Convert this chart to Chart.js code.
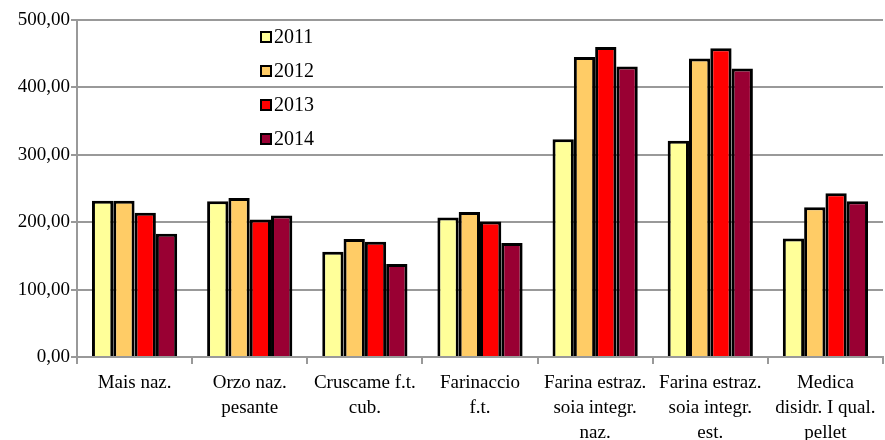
<!DOCTYPE html>
<html lang="it">
<head>
<meta charset="UTF-8">
<title>Prezzi</title>
<script src="https://cdn.jsdelivr.net/npm/chart.js"></script>
<style>
  html, body { margin: 0; padding: 0; background: #fff; }
  #wrap { width: 885px; height: 440px; position: relative; }
</style>
</head>
<body>
<div id="wrap"><canvas id="grafico"></canvas></div>
<script>
// dati
const categorie = [
  ["Mais naz."],
  ["Orzo naz.", "pesante"],
  ["Cruscame f.t.", "cub."],
  ["Farinaccio", "f.t."],
  ["Farina estraz.", "soia integr.", "naz."],
  ["Farina estraz.", "soia integr.", "est."],
  ["Medica", "disidr. I qual.", "pellet"]
];
const anni = ["2011", "2012", "2013", "2014"];
const valori2011 = [232, 231, 156, 207, 323, 321, 176];
const valori2012 = [232, 236, 175, 215, 445, 443, 222];
const valori2013 = [214, 204, 171, 201, 460, 458, 243];
const valori2014 = [183, 210, 138, 169, 431, 428, 231];
const colori = ["#FFFF99", "#FFCC66", "#FF0000", "#990033"];
const tickY = [0, 100, 200, 300, 400, 500];

const FONT = "Liberation Serif";

// legenda dentro l'area del grafico
const legendaInterna = {
  id: "legendaInterna",
  afterDraw(chart) {
    const ctx = chart.ctx;
    ctx.save();
    ctx.font = "20px '" + FONT + "'";
    ctx.textBaseline = "middle";
    chart.data.datasets.forEach((ds, i) => {
      const y = 37 + i * 34;
      ctx.fillStyle = ds.backgroundColor;
      ctx.fillRect(261, y - 5, 10, 10);
      ctx.strokeStyle = "#000";
      ctx.lineWidth = 2;
      ctx.strokeRect(261, y - 5, 10, 10);
      ctx.fillStyle = "#000";
      ctx.fillText(ds.label, 274, y + 1);
    });
    ctx.restore();
  }
};

const serie = [valori2011, valori2012, valori2013, valori2014];

new Chart(document.getElementById("grafico"), {
  type: "bar",
  data: {
    labels: categorie,
    datasets: serie.map((v, i) => ({
      label: anni[i],
      data: v,
      backgroundColor: colori[i],
      borderColor: "#000",
      borderWidth: 3,
      borderSkipped: "bottom",
      barPercentage: 1.0,
      categoryPercentage: 0.74
    }))
  },
  options: {
    responsive: true,
    maintainAspectRatio: false,
    animation: false,
    layout: { padding: { top: 20, right: 2, left: 0, bottom: 0 } },
    plugins: {
      legend: { display: false },
      tooltip: { enabled: false }
    },
    scales: {
      x: {
        afterFit(scale) { scale.height = 83; },
        grid: { drawOnChartArea: false, color: "#999", lineWidth: 2, tickLength: 7 },
        border: { color: "#999", width: 2 },
        ticks: {
          color: "#000",
          font: { family: FONT, size: 19, lineHeight: 1.32 },
          padding: 6,
          maxRotation: 0,
          autoSkip: false
        }
      },
      y: {
        min: 0,
        max: 500,
        afterFit(scale) { scale.width = 77; },
        afterBuildTicks(scale) { scale.ticks = tickY.map(v => ({ value: v })); },
        grid: { color: "#999", lineWidth: 2, tickLength: 6 },
        border: { color: "#999", width: 2 },
        ticks: {
          color: "#000",
          font: { family: FONT, size: 19 },
          padding: 1,
          callback: v => v.toFixed(2).replace(".", ",")
        }
      }
    }
  },
  plugins: [legendaInterna]
});
</script>
</body>
</html>
